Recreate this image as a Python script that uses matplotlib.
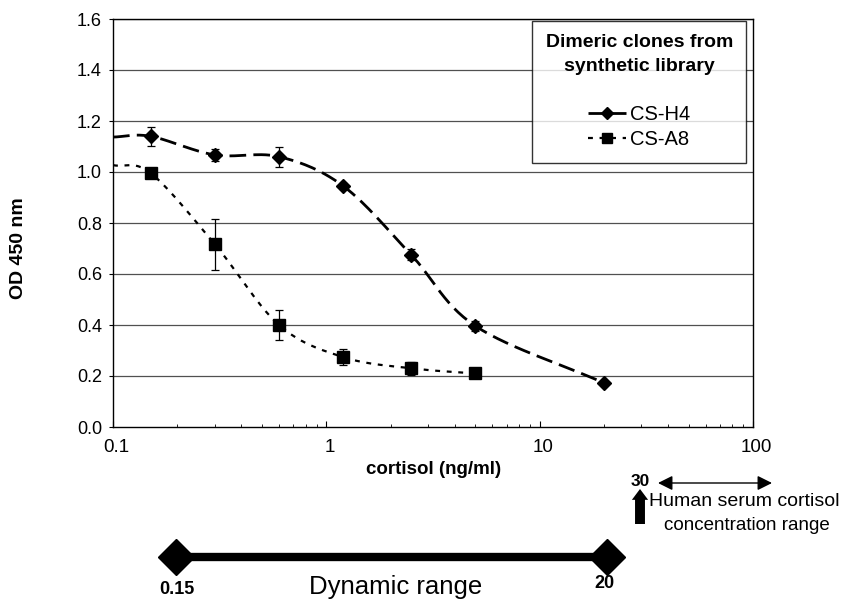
import numpy as np
import matplotlib
matplotlib.use("Agg")
import matplotlib.pyplot as plt
import matplotlib.transforms as mtransforms
from matplotlib.lines import Line2D
from matplotlib.patches import FancyArrowPatch

plt.rcParams['font.family'] = ['Liberation Sans', 'DejaVu Sans']

# ---- data ----
conc = [0.15, 0.3, 0.6, 1.2, 2.5, 5, 20]
h4_od = [1.14, 1.067, 1.06, 0.945, 0.675, 0.396, 0.173]
h4_err = [0.037, 0.022, 0.04, 0.01, 0.022, 0.02, 0.0]
conc_a8 = [0.15, 0.3, 0.6, 1.2, 2.5, 5]
a8_od = [0.996, 0.717, 0.40, 0.274, 0.23, 0.21]
a8_err = [0.01, 0.10, 0.06, 0.03, 0.025, 0.01]
# curve start values at the left edge (0.1 ng/ml)
curve_start_x = 0.1
h4_start = 1.137
a8_start = 1.027

dyn_low, dyn_high = 0.15, 20
serum_low = 30

yticks = [0.0, 0.2, 0.4, 0.6, 0.8, 1.0, 1.2, 1.4, 1.6]
xticks = [0.1, 1, 10, 100]
xticklabels = ['0.1', '1', '10', '100']


def smooth(xs, ys, sx=213.0, sy=255.0, n=30):
    """Catmull-Rom smoothing (Excel-like) in log-x display space."""
    u = np.log10(np.asarray(xs, float)) * sx
    v = np.asarray(ys, float) * sy
    P = np.column_stack([u, v])
    P = np.vstack([P[0] * 2 - P[1], P, P[-1] * 2 - P[-2]])
    out = []
    t = np.linspace(0, 1, n)
    for i in range(1, len(P) - 2):
        p0, p1, p2, p3 = P[i - 1], P[i], P[i + 1], P[i + 2]
        c1 = p1 + (p2 - p0) / 6.0
        c2 = p2 - (p3 - p1) / 6.0
        seg = ((1 - t) ** 3)[:, None] * p1 + (3 * (1 - t) ** 2 * t)[:, None] * c1 \
            + (3 * (1 - t) * t ** 2)[:, None] * c2 + (t ** 3)[:, None] * p2
        out.append(seg if i == 1 else seg[1:])
    S = np.vstack(out)
    return 10 ** (S[:, 0] / sx), S[:, 1] / sy


fig = plt.figure(figsize=(8.41, 5.99), dpi=100)
ax = fig.add_axes([113 / 841, 1 - 427 / 599, 640 / 841, 408 / 599])
ax.set_xscale('log')
ax.set_xlim(0.1, 100)
ax.set_ylim(0, 1.6)

for yv in yticks[1:]:
    ax.axhline(yv, color='#505050', lw=0.9, zorder=1)

# curves
hx, hy = smooth([curve_start_x] + conc, [h4_start] + h4_od)
ax.plot(hx, hy, color='black', lw=2.0, dashes=(6, 2.6), zorder=3)
axx, ay = smooth([curve_start_x] + conc_a8, [a8_start] + a8_od)
ax.plot(axx, ay, color='black', lw=1.6, dashes=(2.2, 3.0), zorder=3)

ax.errorbar(conc, h4_od, yerr=h4_err, fmt='D', color='black', ms=7,
            elinewidth=0.9, capsize=3, capthick=0.9, zorder=4)
ax.errorbar(conc_a8, a8_od, yerr=a8_err, fmt='s', color='black', ms=8,
            elinewidth=0.9, capsize=3, capthick=0.9, zorder=4)

ax.set_yticks(yticks)
ax.set_yticklabels([f'{v:.1f}' for v in yticks], fontsize=13)
ax.set_xticks(xticks)
ax.set_xticklabels(xticklabels, fontsize=13.5)
ax.tick_params(axis='y', length=3, width=0.8, pad=5)
ax.tick_params(axis='x', which='major', length=4, width=0.8, direction='in', pad=9)
ax.tick_params(axis='x', which='minor', length=2.5, width=0.6, direction='in')
shift = mtransforms.ScaledTranslation(3 / 100, 0, fig.dpi_scale_trans)
for lab in ax.get_xticklabels():
    lab.set_transform(lab.get_transform() + shift)
for s in ax.spines.values():
    s.set_linewidth(1.0)
    s.set_color('black')

ax.set_xlabel('cortisol (ng/ml)', fontsize=13.5, fontweight='bold', labelpad=2)
ax.xaxis.set_label_coords((434 - 113) / 640, -(469 - 427) / 408)
ax.xaxis.label.set_va('center')
fig.text(19 / 841, 1 - 248 / 599, 'OD 450 nm', rotation=90, fontsize=14,
         fontweight='bold', ha='center', va='center')

# legend
handles = [Line2D([], [], color='black', lw=2.0, dashes=(6, 2.6), marker='D', ms=6),
           Line2D([], [], color='black', lw=1.6, dashes=(2.2, 3.0), marker='s', ms=7)]
leg = ax.legend(handles, ['CS-H4', 'CS-A8'], title='Dimeric clones from\nsynthetic library\n',
                loc='upper right', bbox_to_anchor=(746 / 841, 1 - 21 / 599),
                bbox_transform=fig.transFigure, fontsize=14.5, frameon=True,
                fancybox=False, edgecolor='black', handlelength=1.9,
                handletextpad=0.2, labelspacing=0.3, borderpad=0.65,
                borderaxespad=0)
leg.get_title().set_fontweight('bold')
leg.get_title().set_fontsize(14)
leg.get_title().set_multialignment('center')
leg.get_title().set_linespacing(1.55)
leg.get_frame().set_linewidth(1.0)


# dynamic range annotation (figure pixel coordinates)
def fx(px):
    return px / 841


def fy(py):
    return 1 - py / 599


fig.add_artist(Line2D([fx(176), fx(607)], [fy(557), fy(557)], color='black', lw=6,
                      solid_capstyle='butt'))
fig.add_artist(Line2D([fx(176), fx(607)], [fy(557), fy(557)], ls='none', marker='D',
                      ms=18, color='black'))
fig.text(fx(177), fy(589), f'{dyn_low:g}', fontsize=13, fontweight='bold', ha='center', va='center')
fig.text(fx(604), fy(584), f'{dyn_high:g}', fontsize=13, fontweight='bold', ha='center', va='center')
fig.text(fx(396), fy(587), 'Dynamic range', fontsize=18.5, ha='center', va='center')

# human serum range
fig.text(fx(640), fy(482), f'{serum_low:g}', fontsize=12.5, fontweight='bold', ha='center', va='center')
fig.add_artist(FancyArrowPatch((fx(658), fy(483)), (fx(772), fy(483)),
               transform=fig.transFigure, arrowstyle='<|-|>', mutation_scale=22,
               color='black', lw=1.0, shrinkA=0, shrinkB=0))
fig.add_artist(FancyArrowPatch((fx(640), fy(524)), (fx(640), fy(489)),
               transform=fig.transFigure, arrowstyle='simple,head_width=0.9,head_length=0.6,tail_width=0.55',
               mutation_scale=13, color='black', lw=0, shrinkA=0, shrinkB=0))
fig.text(fx(649), fy(502), 'Human serum cortisol', fontsize=14, ha='left', va='center')
fig.text(fx(747), fy(526), 'concentration range', fontsize=13.5, ha='center', va='center')

fig.savefig('out.png', dpi=100)
